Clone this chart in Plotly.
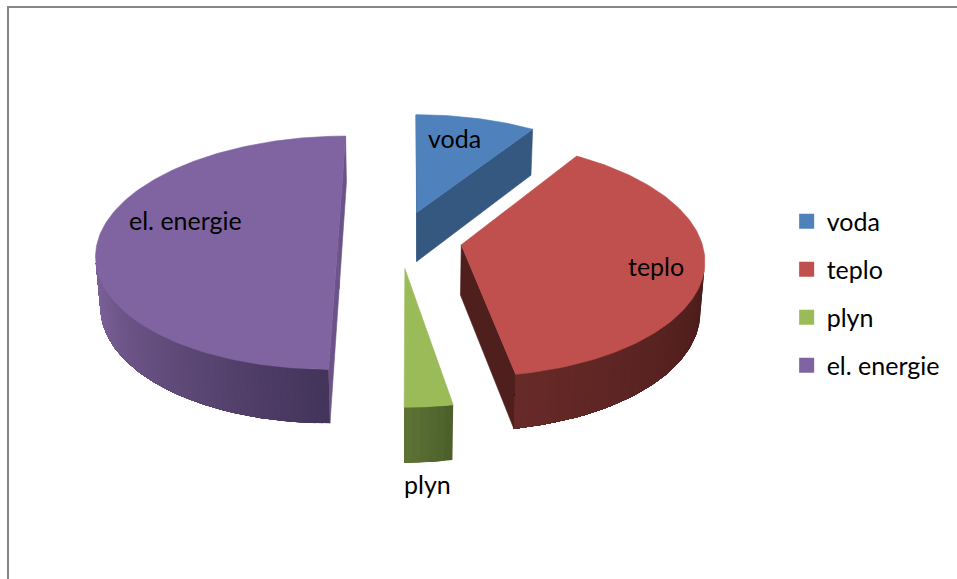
import math
import plotly.graph_objects as go

# ---- data ----
categories = ["voda", "teplo", "plyn", "el. energie"]
values = [9.2, 38.0, 2.8, 50.0]

# ---- style / view ----
top_colors = ["#4f81bd", "#c0504d", "#9bbb59", "#8064a2"]
face_colors = ["#355880", "#4f1f1e", "#5a7033", "#6b5288"]
rim_start = ["#355880", "#4b1c1b", "#4d602c", "#43345a"]   # at the slice's clockwise start
rim_end = ["#355880", "#672a28", "#5c7335", "#7f639c"]     # toward clockwise end
explode = [(7, -59), (51, 10), (-5, 58), (-72, -2)]
label_pos = [(454, 138), (656, 266), (427, 484), (185, 220)]
draw_order = [0, 3, 1, 2]

W, H = 957, 579
CX, CY = 410, 240
R = 240
DEPTH = 58
SIN_E, COS_E = 0.48, 0.875
D = 1800
START_DEG = 0
FONT = "Lato"
FS = 25


def project(x, y, z):
    w = D / (D - y * COS_E - z * SIN_E)
    return CX + x * w, CY + (y * SIN_E - z * COS_E) * w


def rim(i, t, z):
    ex, ey = explode[i]
    return project(ex + R * math.sin(t), ey - R * math.cos(t), z)


def apex(i, z):
    ex, ey = explode[i]
    return project(ex, ey, z)


def cross(a, b, c):
    return (b[0] - a[0]) * (c[1] - b[1]) - (b[1] - a[1]) * (c[0] - b[0])


def mix(c1, c2, f):
    p = [int(c1[k:k + 2], 16) for k in (1, 3, 5)]
    q = [int(c2[k:k + 2], 16) for k in (1, 3, 5)]
    return "rgb(%d,%d,%d)" % tuple(round(a + (b - a) * f) for a, b in zip(p, q))


fig = go.Figure()


def poly(pts, color, lw=0.6):
    xs = [p[0] for p in pts] + [pts[0][0]]
    ys = [p[1] for p in pts] + [pts[0][1]]
    fig.add_trace(go.Scatter(x=xs, y=ys, mode="lines", fill="toself", fillcolor=color,
                             line=dict(color=color, width=lw), showlegend=False,
                             hoverinfo="skip"))


total = sum(values)
angles = [math.radians(START_DEG)]
for v in values:
    angles.append(angles[-1] + 2 * math.pi * v / total)

for i in draw_order:
    t0, t1 = angles[i], angles[i + 1]
    # radial faces
    for t, sign in ((t0, -1), (t1, 1)):
        quad = [apex(i, 0), rim(i, t, 0), rim(i, t, -DEPTH), apex(i, -DEPTH)]
        if cross(quad[0], quad[1], quad[2]) * sign > 0:
            poly(quad, face_colors[i])
    # outer rim: each shaded strip runs on to the far end, the next one paints over it
    n = max(3, int((t1 - t0) / math.radians(1.5)))
    visible = []
    for k in range(n):
        a = t0 + (t1 - t0) * k / n
        b = t0 + (t1 - t0) * (k + 1) / n
        quad = [rim(i, a, 0), rim(i, b, 0), rim(i, b, -DEPTH), rim(i, a, -DEPTH)]
        if cross(quad[0], quad[1], quad[2]) < 0:
            visible.append((a, b))
    if visible:
        last = visible[-1][1]
        for k, (a, b) in enumerate(visible):
            f = k / max(1, len(visible) - 1)
            steps = max(1, int((last - a) / math.radians(1.5)))
            ts = [a + (last - a) * s / steps for s in range(steps + 1)]
            pts = [rim(i, t, 0) for t in ts] + [rim(i, t, -DEPTH) for t in reversed(ts)]
            poly(pts, mix(rim_start[i], rim_end[i], f), lw=0)
    # top face
    m = max(6, int((t1 - t0) / math.radians(1)))
    pts = [apex(i, 0)] + [rim(i, t0 + (t1 - t0) * k / m, 0) for k in range(m + 1)]
    poly(pts, top_colors[i])

# legend entries
for name, col in zip(categories, top_colors):
    fig.add_trace(go.Scatter(x=[None], y=[None], mode="markers", name=name,
                             legendgroup=name,
                             marker=dict(symbol="square", size=15, color=col)))

annotations = [dict(x=x, y=y, text=name, showarrow=False, xref="x", yref="y",
                    font=dict(family=FONT, size=FS, color="#000000"))
               for name, (x, y) in zip(categories, label_pos)]

fig.update_layout(
    width=W, height=H, autosize=False,
    margin=dict(l=0, r=0, t=0, b=0),
    paper_bgcolor="white", plot_bgcolor="white",
    xaxis=dict(range=[0, W], visible=False, fixedrange=True),
    yaxis=dict(range=[H, 0], visible=False, fixedrange=True),
    annotations=annotations,
    legend=dict(x=0.822, y=0.657, xanchor="left", yanchor="top",
                font=dict(family=FONT, size=FS, color="#000000"),
                tracegroupgap=12.5, itemwidth=30, bgcolor="rgba(0,0,0,0)",
                traceorder="grouped"),
    shapes=[dict(type="rect", xref="x", yref="y", x0=8, y0=7, x1=W + 20, y1=H + 20,
                 line=dict(color="#868686", width=2), fillcolor="rgba(0,0,0,0)")],
)

fig.write_html("out.html", config=dict(displayModeBar=False),
               post_script="document.body.style.margin='0';document.documentElement.style.overflow='hidden';")
